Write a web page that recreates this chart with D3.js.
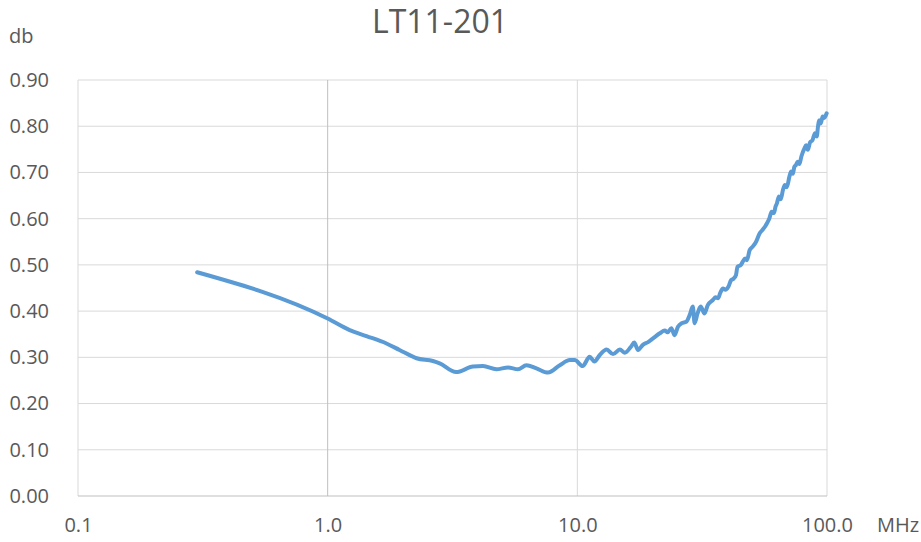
<!DOCTYPE html>
<html><head><meta charset="utf-8">
<script src="https://cdn.jsdelivr.net/npm/d3@7"></script>
<style>body{margin:0;background:#fff}svg{display:block}text{font-family:"Open Sans","Noto Sans",sans-serif;fill:#595959}</style>
</head><body><svg id="c" width="921" height="542"></svg>
<script>
const title = "LT11-201";
const xTicks = [0.1, 1, 10, 100];
const xTickLabels = ["0.1", "1.0", "10.0", "100.0"];
const yTicks = [0, 0.1, 0.2, 0.3, 0.4, 0.5, 0.6, 0.7, 0.8, 0.9];
const freq = [0.3, 1.0, 1.225, 1.43, 1.72, 1.94, 2.27, 2.64, 2.81, 3.27, 3.82, 4.19, 4.74, 5.28, 5.78, 6.25, 6.86, 7.63, 8.51, 9.33, 9.77, 10.5, 11.2, 11.7, 12.3, 13.1, 13.9, 14.8, 15.5, 16.4, 16.9, 17.5, 18.3, 19.2, 20.1, 21.4, 22.4, 23.0, 23.8, 24.5, 25.3, 26.2, 27.3, 28.2, 29.0, 29.5, 30.3, 31.2, 32.3, 33.3, 34.9, 35.8, 36.6, 37.4, 38.3, 39.2, 40.2, 41.3, 42.2, 43.2, 43.8, 45.2, 46.0, 47.0, 47.8, 49.0, 50.5, 52.0, 53.7, 55.0, 56.5, 57.5, 58.8, 60.0, 61.3, 62.2, 63.0, 64.2, 65.3, 66.6, 67.8, 69.0, 70.7, 71.8, 73.0, 74.0, 75.1, 76.3, 77.5, 79.0, 81.2, 82.5, 83.8, 85.5, 87.5, 89.5, 91.0, 92.0, 93.0, 94.5, 96.0, 97.4, 99.7];
const loss = [0.484, 0.384, 0.359, 0.346, 0.330, 0.316, 0.298, 0.292, 0.287, 0.268, 0.280, 0.281, 0.274, 0.278, 0.274, 0.283, 0.276, 0.267, 0.283, 0.294, 0.294, 0.281, 0.301, 0.291, 0.305, 0.317, 0.307, 0.317, 0.310, 0.323, 0.332, 0.316, 0.327, 0.333, 0.341, 0.352, 0.358, 0.354, 0.363, 0.348, 0.366, 0.374, 0.377, 0.392, 0.410, 0.374, 0.395, 0.410, 0.395, 0.413, 0.424, 0.430, 0.428, 0.440, 0.449, 0.446, 0.452, 0.467, 0.470, 0.478, 0.496, 0.500, 0.507, 0.514, 0.510, 0.532, 0.540, 0.550, 0.568, 0.575, 0.583, 0.590, 0.601, 0.615, 0.612, 0.626, 0.633, 0.648, 0.642, 0.662, 0.673, 0.668, 0.691, 0.702, 0.697, 0.712, 0.716, 0.723, 0.718, 0.735, 0.752, 0.759, 0.749, 0.765, 0.770, 0.785, 0.778, 0.799, 0.813, 0.806, 0.821, 0.818, 0.828];

const svg = d3.select("#c");
const x = d3.scaleLog().domain([0.1, 100]).range([78, 827]);
const y = d3.scaleLinear().domain([0, 0.9]).range([496, 80]);
const FONT = "'Open Sans','Noto Sans',sans-serif";

svg.append("g").selectAll("line").data(yTicks.filter(d => d > 0)).join("line")
  .attr("x1", 78).attr("x2", 827).attr("y1", d => y(d)).attr("y2", d => y(d))
  .attr("stroke", "#d9d9d9").attr("stroke-width", 1);
svg.append("g").selectAll("line").data(xTicks).join("line")
  .attr("x1", d => x(d)).attr("x2", d => x(d)).attr("y1", 80).attr("y2", 496)
  .attr("stroke", d => d === 1 ? "#bfbfbf" : "#d9d9d9").attr("stroke-width", 1);
svg.append("line").attr("x1", 78).attr("x2", 827).attr("y1", y(0)).attr("y2", y(0))
  .attr("stroke", "#bfbfbf").attr("stroke-width", 1);

const yAxis = d3.axisLeft(y).tickValues(yTicks).tickFormat(d3.format(".2f")).tickSize(0).tickPadding(0);
const gy = svg.append("g").attr("transform", "translate(49,0)").call(yAxis);
gy.select(".domain").remove();
gy.selectAll("text").attr("font-size", 20).attr("fill", "#595959").attr("font-family", FONT);

const xAxis = d3.axisBottom(x).tickValues(xTicks).tickFormat((d, i) => xTickLabels[i]).tickSize(0).tickPadding(0);
const gx = svg.append("g").attr("transform", "translate(0,0)").call(xAxis);
gx.select(".domain").remove();
gx.selectAll("text").attr("font-size", 20).attr("fill", "#595959").attr("font-family", FONT)
  .attr("y", 532).attr("dy", 0);

const line = d3.line().x((d, i) => x(freq[i])).y(d => y(d)).curve(d3.curveMonotoneX);
svg.append("path").datum(loss).attr("d", line).attr("fill", "none")
  .attr("stroke", "#5b9bd5").attr("stroke-width", 4).attr("stroke-linejoin", "round").attr("stroke-linecap", "round");

svg.append("text").attr("x", 440).attr("y", 33).attr("text-anchor", "middle").attr("font-size", 32).text(title);
svg.append("text").attr("x", 9).attr("y", 43).attr("font-size", 20).text("db");
svg.append("text").attr("x", 877).attr("y", 532).attr("font-size", 20).text("MHz");
</script></body></html>
